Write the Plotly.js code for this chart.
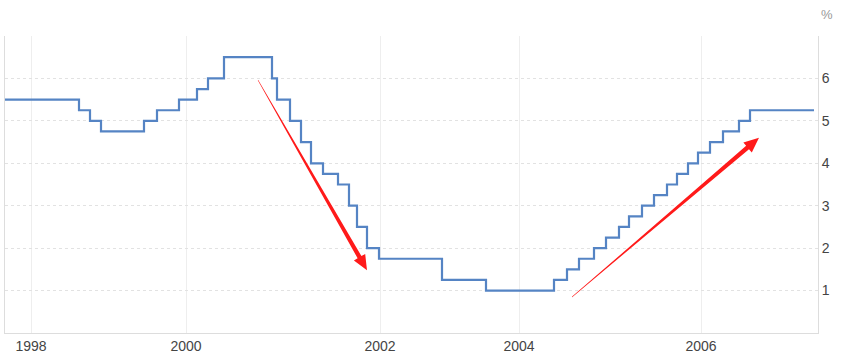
<!DOCTYPE html>
<html>
<head>
<meta charset="utf-8">
<script src="https://cdn.plot.ly/plotly-3.0.1.min.js"></script>
<style>html,body{margin:0;padding:0;background:#fff}#chart{width:841px;height:360px}</style>
</head>
<body>
<div id="chart"></div>
<script>
// Position along the chart's horizontal (observation) scale where each rate level starts
const stepPos = [5, 79, 90, 101, 144, 157, 179, 197, 208, 224, 272, 277, 290, 301, 311, 323, 338, 349, 357, 367, 379, 442, 486, 554, 567, 579, 594, 606, 619, 629, 642, 654, 667, 677, 688, 698, 710, 723, 739, 750, 814];
// Policy rate (%) for each step
const rateValues = [5.5, 5.25, 5.0, 4.75, 5.0, 5.25, 5.5, 5.75, 6.0, 6.5, 6.0, 5.5, 5.0, 4.5, 4.0, 3.75, 3.5, 3.0, 2.5, 2.0, 1.75, 1.25, 1.0, 1.25, 1.5, 1.75, 2.0, 2.25, 2.5, 2.75, 3.0, 3.25, 3.5, 3.75, 4.0, 4.25, 4.5, 4.75, 5.0, 5.25, 5.25];
// Year tick labels and their positions on the same scale
const yearTickPos = [31, 186, 380, 519, 701];
const yearTickLabels = ['1998', '2000', '2002', '2004', '2006'];
const yTickVals = [1, 2, 3, 4, 5, 6, 7];
const yTickText = ['1', '2', '3', '4', '5', '6', ''];

const W = 841, H = 360;
const M = {l: 5, r: 23, t: 36, b: 27};
const xRange = [5, 818];
const yRange = [0, 7];
const pxX = (W - M.l - M.r) / (xRange[1] - xRange[0]);
const pxY = (H - M.t - M.b) / (yRange[1] - yRange[0]);

// tapered arrow path (pixel offsets relative to tip, y up)
function arrowShape(tail, tip, color) {
  const dx = (tail[0] - tip[0]) * pxX, dy = (tail[1] - tip[1]) * pxY;
  const L = Math.hypot(dx, dy);
  const ux = dx / L, uy = dy / L, nx = -uy, ny = ux;
  const headL = 15, headW = 6.5, shaftW = 2.2, tailW = 0.25;
  const bx = ux * headL, by = uy * headL;
  const pts = [
    [0, 0],
    [bx + nx * headW, by + ny * headW],
    [bx + nx * shaftW, by + ny * shaftW],
    [dx + nx * tailW, dy + ny * tailW],
    [dx - nx * tailW, dy - ny * tailW],
    [bx - nx * shaftW, by - ny * shaftW],
    [bx - nx * headW, by - ny * headW]
  ];
  const path = 'M' + pts.map(p => p[0].toFixed(2) + ',' + p[1].toFixed(2)).join(' L') + ' Z';
  return {
    type: 'path', xref: 'x', yref: 'y', xsizemode: 'pixel', ysizemode: 'pixel',
    xanchor: tip[0], yanchor: tip[1], path: path,
    fillcolor: color, line: {width: 0}, layer: 'above'
  };
}

const trace = {
  x: stepPos, y: rateValues, type: 'scatter', mode: 'lines',
  line: {shape: 'hv', color: '#5584c4', width: 2.2},
  hoverinfo: 'skip'
};

const layout = {
  width: W, height: H,
  margin: M,
  paper_bgcolor: '#ffffff', plot_bgcolor: '#ffffff',
  showlegend: false,
  font: {family: 'Liberation Sans, Arial, sans-serif', size: 14, color: '#444'},
  xaxis: {
    range: xRange, tickvals: yearTickPos, ticktext: yearTickLabels,
    showgrid: true, gridcolor: '#eeeeee', gridwidth: 1,
    zeroline: false, showline: true, linecolor: '#dddddd', linewidth: 1,
    ticks: '', tickfont: {size: 14, color: '#444'}, fixedrange: true
  },
  yaxis: {
    range: yRange, side: 'right', tickvals: yTickVals, ticktext: yTickText,
    showgrid: true, gridcolor: '#e2e2e2', gridwidth: 1, griddash: 'dot',
    zeroline: false, showline: true, linecolor: '#dddddd', linewidth: 1, mirror: true,
    ticks: '', tickfont: {size: 14, color: '#444'}, fixedrange: true
  },
  shapes: [
    arrowShape([258, 5.96], [367, 1.48], '#ff1a1a'),
    arrowShape([572, 0.85], [759, 4.6], '#ff1a1a')
  ],
  annotations: [
    {text: '%', xref: 'paper', yref: 'paper', x: 1, y: 1, xanchor: 'left', yanchor: 'bottom',
     xshift: 1, yshift: 12, showarrow: false, font: {size: 13, color: '#999'}}
  ]
};

Plotly.newPlot('chart', [trace], layout, {staticPlot: true, displayModeBar: false});
</script>
</body>
</html>
